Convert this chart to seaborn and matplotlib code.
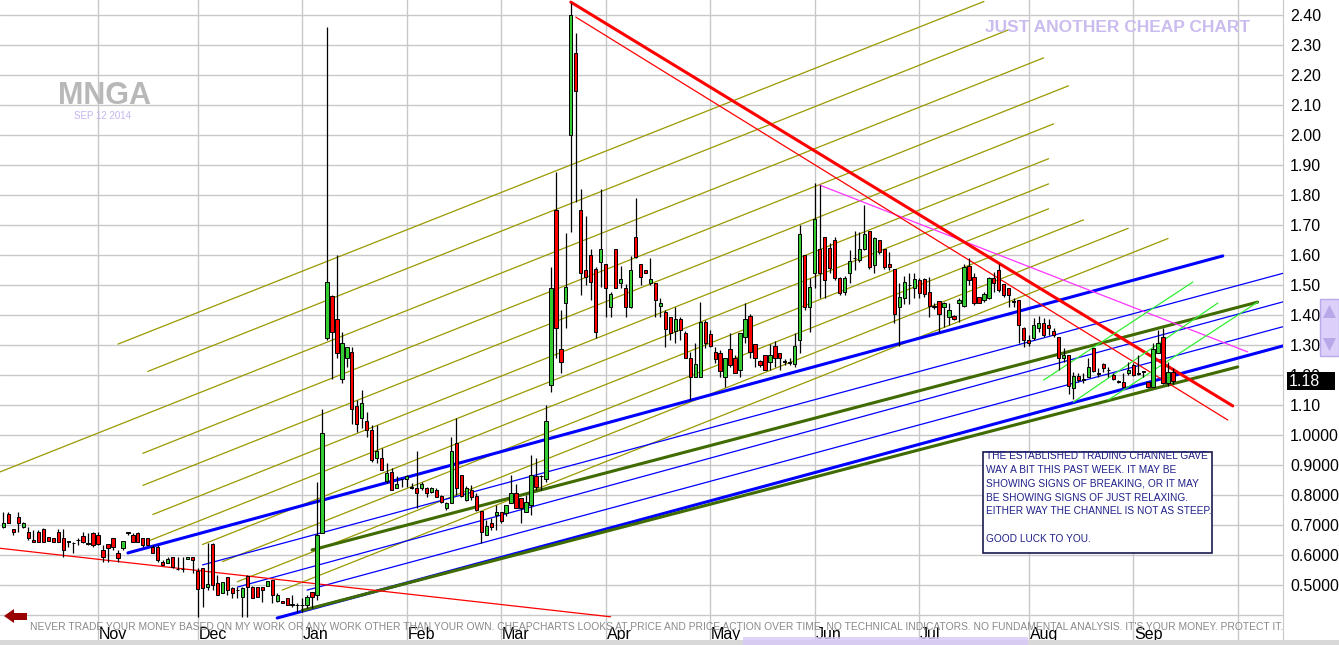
import numpy as np
import pandas as pd
import matplotlib
matplotlib.use('Agg')
import matplotlib.pyplot as plt
from matplotlib.patches import Rectangle, Polygon
from matplotlib.transforms import blended_transform_factory
import seaborn as sns

sns.set_style('white')
plt.rcParams['font.family'] = ['Liberation Sans', 'DejaVu Sans']

# ---- data -------------------------------------------------------------
HOLIDAYS = ['2013-11-28', '2013-12-25', '2014-01-01', '2014-01-20', '2014-02-17',
            '2014-04-18', '2014-05-26', '2014-07-04', '2014-09-01']
first_day, last_day = '2013-10-07', '2014-09-12'

opens = [
    # Oct 2013
    .694, .737, .686, .726, .694, .676, .650, .678, .686, .659, .656, .678, .656, .645, .640, .650, .663, .639, .674,
    # Nov
    .667, .617, .636, .656, .606, .622, .675, .667, .674, .656, .656, .628, .628, .578, .574, .594, .553, .553, .586, .594,
    # Dec
    .548, .556, .492, .637, .508, .472, .528, .489, .484, .461, .530, .494, .494, .494, .497, .517, .448, .448, .456, .437, .434,
    # Jan 2014
    .434, .433, .478, .467, .673, 1.325, 1.463, 1.387, 1.186, 1.256, 1.276, 1.097, 1.056, 1.047, 1.017, .924, .925, .847, .876, .825, .854,
    # Feb
    .853, .826, .822, .825, .825, .809, .817, .797, .756, .775, .972, .866, .783, .817, .798, .747, .667, .706, .733,
    # Mar
    .744, .739, .775, .806, .789, .745, .767, .864, .864, .852, 1.167, 1.750, 1.286, 1.439, 2.000, 2.272, 1.750, 1.550, 1.600, 1.555, 1.578,
    # Apr
    1.569, 1.428, 1.619, 1.508, 1.489, 1.428, 1.659, 1.569, 1.550, 1.508, 1.508, 1.430, 1.411, 1.394, 1.348, 1.386, 1.339, 1.256, 1.194, 1.194, 1.378,
    # May
    1.336, 1.278, 1.274, 1.194, 1.286, 1.256, 1.217, 1.328, 1.397, 1.303, 1.248, 1.267, 1.244, 1.297, 1.274, 1.245, 1.242, 1.236, 1.317, 1.600, 1.428,
    # Jun
    1.539, 1.620, 1.661, 1.622, 1.650, 1.522, 1.478, 1.539, 1.590, 1.585, 1.619, 1.680, 1.567, 1.650, 1.619, 1.570, 1.552, 1.428, 1.458, 1.500, 1.489,
    # Jul
    1.517, 1.520, 1.477, 1.430, 1.448, 1.428, 1.394, 1.397, 1.439, 1.430, 1.563, 1.528, 1.461, 1.450, 1.458, 1.522, 1.550, 1.503, 1.489, 1.445, 1.450, 1.356,
    # Aug
    1.317, 1.322, 1.356, 1.374, 1.367, 1.348, 1.326, 1.256, 1.267, 1.156, 1.197, 1.186, 1.194, 1.289, 1.206, 1.237, 1.217, 1.200, 1.178, 1.178, 1.206,
    # Sep
    1.233, 1.206, 1.212, 1.178, 1.161, 1.272, 1.328, 1.172, 1.211,
]
highs = [
    .744, .744, .686, .744, .711, .694, .683, .683, .690, .661, .656, .686, .686, .645, .644, .656, .678, .674, .678,
    .678, .633, .636, .656, .617, .647, .678, .672, .678, .656, .656, .633, .633, .583, .592, .594, .592, .594, .592, .594,
    .556, .556, .639, .639, .533, .511, .528, .494, .494, .494, .533, .497, .494, .494, .514, .517, .472, .448, .456, .467, .439,
    .456, .467, .478, .843, 1.087, 2.361, 1.467, 1.600, 1.344, 1.294, 1.294, 1.117, 1.150, 1.078, 1.033, 1.033, .956, .906, .889, .863, .855,
    .867, .840, .948, .844, .828, .828, .822, .800, .778, .994, 1.056, .866, .830, .833, .806, .747, .717, .722, .767,
    .744, .767, .867, .837, .789, .800, .933, .925, .867, 1.100, 1.561, 1.878, 1.417, 1.672, 2.440, 2.340, 1.819, 1.730, 1.619, 1.561, 1.819,
    1.569, 1.478, 1.619, 1.563, 1.505, 1.597, 1.789, 1.569, 1.550, 1.589, 1.508, 1.456, 1.417, 1.394, 1.428, 1.394, 1.347, 1.278, 1.306, 1.444, 1.383,
    1.350, 1.294, 1.283, 1.256, 1.339, 1.267, 1.339, 1.439, 1.405, 1.303, 1.250, 1.267, 1.303, 1.314, 1.274, 1.252, 1.256, 1.339, 1.700, 1.600, 1.522,
    1.840, 1.833, 1.661, 1.639, 1.661, 1.528, 1.530, 1.617, 1.681, 1.678, 1.767, 1.680, 1.661, 1.650, 1.619, 1.611, 1.552, 1.506, 1.530, 1.539, 1.541,
    1.522, 1.525, 1.528, 1.440, 1.448, 1.444, 1.439, 1.400, 1.456, 1.570, 1.589, 1.539, 1.461, 1.478, 1.528, 1.544, 1.570, 1.503, 1.489, 1.456, 1.450, 1.359,
    1.333, 1.389, 1.397, 1.389, 1.386, 1.356, 1.326, 1.289, 1.267, 1.211, 1.206, 1.206, 1.256, 1.289, 1.222, 1.239, 1.228, 1.206, 1.183, 1.206, 1.244,
    1.239, 1.267, 1.212, 1.178, 1.308, 1.350, 1.356, 1.244, 1.225,
]
lows = [
    .689, .706, .667, .678, .689, .650, .644, .644, .644, .646, .644, .644, .594, .628, .606, .633, .639, .633, .628,
    .633, .578, .578, .617, .578, .617, .667, .644, .644, .628, .633, .606, .578, .567, .572, .556, .550, .544, .586, .539,
    .394, .428, .483, .483, .467, .472, .467, .456, .456, .394, .394, .456, .461, .444, .497, .441, .444, .439, .433, .428, .411,
    .411, .422, .422, .450, .673, 1.317, 1.186, 1.257, 1.175, 1.228, 1.037, 1.011, 1.022, .994, .911, .906, .883, .839, .817, .822, .826,
    .828, .820, .756, .817, .794, .808, .794, .775, .750, .772, .800, .794, .781, .783, .748, .639, .667, .683, .683,
    .706, .730, .772, .756, .706, .745, .733, .817, .817, .844, 1.145, 1.256, 1.206, 1.356, 1.678, 1.778, 1.467, 1.500, 1.450, 1.322, 1.494,
    1.394, 1.394, 1.489, 1.489, 1.394, 1.422, 1.589, 1.500, 1.539, 1.500, 1.394, 1.394, 1.294, 1.317, 1.306, 1.317, 1.256, 1.117, 1.194, 1.194, 1.289,
    1.294, 1.239, 1.194, 1.161, 1.228, 1.206, 1.194, 1.306, 1.256, 1.228, 1.228, 1.217, 1.217, 1.228, 1.217, 1.233, 1.233, 1.228, 1.272, 1.417, 1.344,
    1.489, 1.456, 1.456, 1.539, 1.517, 1.467, 1.467, 1.506, 1.550, 1.578, 1.617, 1.555, 1.539, 1.605, 1.555, 1.550, 1.374, 1.297, 1.437, 1.437, 1.458,
    1.456, 1.460, 1.394, 1.420, 1.344, 1.361, 1.367, 1.383, 1.378, 1.428, 1.500, 1.433, 1.439, 1.444, 1.455, 1.478, 1.478, 1.461, 1.428, 1.428, 1.306, 1.294,
    1.297, 1.317, 1.344, 1.328, 1.333, 1.328, 1.217, 1.244, 1.137, 1.119, 1.178, 1.172, 1.192, 1.211, 1.194, 1.211, 1.194, 1.183, 1.172, 1.159, 1.200,
    1.197, 1.200, 1.194, 1.156, 1.159, 1.272, 1.170, 1.165, 1.170,
]
closes = [
    .706, .706, .676, .706, .708, .656, .644, .644, .644, .648, .644, .644, .617, .644, .639, .649, .644, .638, .633,
    .637, .594, .624, .628, .589, .647, .674, .644, .644, .633, .633, .606, .583, .567, .587, .561, .552, .552, .592, .583,
    .486, .489, .502, .500, .467, .511, .483, .474, .483, .489, .494, .456, .461, .483, .514, .467, .467, .439, .433, .433, .433,
    .433, .461, .461, .667, 1.007, 1.509, 1.344, 1.273, 1.306, 1.294, 1.086, 1.037, 1.106, 1.017, .917, .947, .883, .875, .817, .837, .853,
    .863, .825, .806, .836, .806, .825, .794, .778, .775, .948, .825, .797, .825, .794, .750, .676, .697, .694, .744,
    .714, .767, .806, .756, .756, .778, .867, .828, .863, 1.047, 1.489, 1.356, 1.244, 1.494, 2.400, 2.148, 1.539, 1.528, 1.509, 1.344, 1.620,
    1.489, 1.470, 1.489, 1.520, 1.428, 1.550, 1.592, 1.528, 1.539, 1.520, 1.450, 1.439, 1.355, 1.341, 1.386, 1.350, 1.256, 1.194, 1.236, 1.378, 1.306,
    1.297, 1.252, 1.213, 1.256, 1.233, 1.206, 1.339, 1.386, 1.278, 1.256, 1.233, 1.217, 1.267, 1.256, 1.256, 1.244, 1.241, 1.297, 1.670, 1.428, 1.492,
    1.719, 1.540, 1.517, 1.556, 1.522, 1.472, 1.522, 1.581, 1.589, 1.619, 1.670, 1.559, 1.656, 1.611, 1.559, 1.559, 1.403, 1.461, 1.511, 1.499, 1.519,
    1.472, 1.470, 1.430, 1.428, 1.403, 1.439, 1.417, 1.386, 1.450, 1.561, 1.517, 1.439, 1.441, 1.470, 1.522, 1.508, 1.485, 1.467, 1.467, 1.444, 1.367, 1.317,
    1.306, 1.367, 1.374, 1.333, 1.356, 1.333, 1.256, 1.267, 1.164, 1.197, 1.183, 1.185, 1.228, 1.214, 1.205, 1.222, 1.216, 1.186, 1.177, 1.161, 1.217,
    1.200, 1.205, 1.211, 1.161, 1.286, 1.306, 1.172, 1.211, 1.180,
]

# hand-drawn trend lines: start date, start price, end date, end price
fan_start = ['2013-11-07', '2013-11-15', '2013-10-04', '2013-11-14', '2013-11-14', '2013-11-18',
             '2013-11-15', '2013-12-03', '2013-12-09', '2013-12-12', '2013-12-26']
fan_p0 = [1.303, 1.212, 0.875, 0.939, 0.832, 0.735, 0.646, 0.635, 0.578, 0.511, 0.483]
fan_end = ['2014-07-21', '2014-07-28', '2014-08-06', '2014-08-13', '2014-08-08', '2014-08-07',
           '2014-08-07', '2014-08-07', '2014-08-18', '2014-08-29', '2014-09-11']
fan_p1 = [2.445, 2.351, 2.257, 2.164, 2.037, 1.921, 1.837, 1.754, 1.717, 1.689, 1.655]

trend_names = ['blue_top', 'blue_bottom', 'blue_1', 'blue_2', 'blue_3', 'green_top', 'green_bottom',
               'magenta', 'red_thick', 'red_thin', 'red_low', 'lime_1', 'lime_2', 'lime_3']
trend_start = ['2013-11-11', '2013-12-24', '2013-12-03', '2013-12-12', '2014-01-03', '2014-01-06', '2014-01-02',
               '2014-06-03', '2014-03-21', '2014-03-24', '2013-10-04', '2014-08-06', '2014-08-14', '2014-08-25']
trend_p0 = [0.607, 0.390, 0.567, 0.493, 0.483, 0.617, 0.415, 1.833, 2.443, 2.393, 0.623, 1.183, 1.110, 1.117]
trend_end = ['2014-09-26', '2014-10-17', '2014-10-17', '2014-10-17', '2014-10-17', '2014-10-07', '2014-10-01',
             '2014-10-03', '2014-09-30', '2014-09-29', '2014-04-02', '2014-09-18', '2014-09-25', '2014-10-07']
trend_p1 = [1.597, 1.310, 1.552, 1.457, 1.374, 1.443, 1.227, 1.277, 1.097, 1.050, 0.394, 1.510, 1.440, 1.443]

price_ticks = [0.5, 0.6, 0.7, 0.8, 0.9, 1.0, 1.1, 1.2, 1.3, 1.4, 1.5, 1.6, 1.7, 1.8, 1.9, 2.0, 2.1, 2.2, 2.3, 2.4]
price_labels = ['0.5000', '0.6000', '0.7000', '0.8000', '0.9000', '1.0000', '1.10', '1.20', '1.30', '1.40',
                '1.50', '1.60', '1.70', '1.80', '1.90', '2.00', '2.10', '2.20', '2.30', '2.40']
month_starts = ['2013-11-01', '2013-12-02', '2014-01-02', '2014-02-03', '2014-03-03', '2014-04-01',
                '2014-05-01', '2014-06-02', '2014-07-01', '2014-08-01', '2014-09-02', '2014-10-01']
month_names = ['Nov', 'Dec', 'Jan', 'Feb', 'Mar', 'Apr', 'May', 'Jun', 'Jul', 'Aug', 'Sep', '']
last_price = 1.18

note = ("THE ESTABLISHED TRADING CHANNEL GAVE\nWAY A BIT THIS PAST WEEK. IT MAY BE\n"
        "SHOWING SIGNS OF BREAKING, OR IT MAY\nBE SHOWING SIGNS OF JUST RELAXING.\n"
        "EITHER WAY THE CHANNEL IS NOT AS STEEP.\n\nGOOD LUCK TO YOU.")
disclaimer = ("NEVER TRADE YOUR MONEY BASED ON MY WORK OR ANY WORK OTHER THAN YOUR OWN. "
              "CHEAPCHARTS LOOKS AT PRICE AND PRICE ACTION OVER TIME. NO TECHNICAL INDICATORS. "
              "NO FUNDAMENTAL ANALYSIS. IT'S YOUR MONEY. PROTECT IT.")


def bar_no(d):
    # trading-day number counted from 1 Nov 2013
    return np.busday_count('2013-11-01', np.datetime64(d, 'D'), holidays=HOLIDAYS)


dates = pd.bdate_range(first_day, last_day, freq='C', holidays=HOLIDAYS)
df = pd.DataFrame({'date': dates, 'open': opens, 'high': highs, 'low': lows, 'close': closes})
df['x'] = [bar_no(d.strftime('%Y-%m-%d')) for d in df['date']]

# ---- figure -------------------------------------------------------------
W, H = 1339, 645
fig = plt.figure(figsize=(W / 100, H / 100), dpi=100)
ax = fig.add_axes([0, 5 / H, 1283 / W, 640 / H])
ax.set_xlim(-19.7, 238.1)
ax.set_ylim(0.3167, 2.45)

grid_c = '#c8c8c8'
for m in month_starts:
    ax.axvline(bar_no(m), color=grid_c, lw=1, zorder=0)
for p in np.arange(0.4, 2.45, 0.1):
    ax.axhline(p, color=grid_c, lw=1, zorder=0)

# trend lines
for s, p0, e, p1 in zip(fan_start, fan_p0, fan_end, fan_p1):
    sns.lineplot(x=[bar_no(s), bar_no(e)], y=[p0, p1], color='#999900', lw=0.9, ax=ax, zorder=1)

styles = {
    'blue_top': ('#0000ff', 2.2), 'blue_bottom': ('#0000ff', 2.2),
    'blue_1': ('#0000ff', 0.9), 'blue_2': ('#0000ff', 0.9), 'blue_3': ('#0000ff', 0.9),
    'green_top': ('#3f6b00', 2.2), 'green_bottom': ('#3f6b00', 2.2),
    'magenta': ('#ff33ff', 0.9), 'red_thick': ('#ff0000', 2.2), 'red_thin': ('#ff0000', 0.9),
    'red_low': ('#ff0000', 0.9), 'lime_1': ('#33ee33', 0.9), 'lime_2': ('#33ee33', 0.9),
    'lime_3': ('#33ee33', 0.9),
}
for n, s, p0, e, p1 in zip(trend_names, trend_start, trend_p0, trend_end, trend_p1):
    c, lw = styles[n]
    sns.lineplot(x=[bar_no(s), bar_no(e)], y=[p0, p1], color=c, lw=lw, ax=ax, zorder=2)

# candles
ax.vlines(df['x'], df['low'], df['high'], color='black', lw=0.9, zorder=3)
body = (df['close'] - df['open']).abs()
colors = np.where(body < 0.004, 'black', np.where(df['close'] > df['open'], '#33cc33', '#ff0000'))
ax.bar(df['x'], np.maximum(body, 0.002), bottom=np.minimum(df['open'], df['close']), width=0.66,
       color=colors, edgecolor='black', linewidth=0.7, zorder=4)

for sp in ['top', 'left', 'bottom']:
    ax.spines[sp].set_visible(False)
ax.spines['right'].set_color(grid_c)

ax.set_xticks([])
ax.yaxis.tick_right()
ax.set_yticks(price_ticks)
ax.set_yticklabels(price_labels)
ax.tick_params(axis='y', length=0, pad=5, labelsize=11.5, labelcolor='black')
ax.set_xlabel('')
ax.set_ylabel('')

for m, name in zip(month_starts, month_names):
    ax.text(bar_no(m) + 0.2, 0.008, name, transform=blended_transform_factory(ax.transData, ax.transAxes),
            ha='left', va='center', fontsize=11.5, color='black', zorder=6)

# last price tag
bt = blended_transform_factory(ax.transAxes, ax.transData)
ax.add_patch(Rectangle((1 + 4 / 1283, last_price - 0.03), 48 / 1283, 0.06, transform=bt,
                       facecolor='black', edgecolor='none', clip_on=False, zorder=10))
ax.text(1 + 6 / 1283, last_price, f'{last_price:.2f}', transform=bt, color='white', fontsize=11.5,
        ha='left', va='center', clip_on=False, zorder=11)

# note box
fig.patches.append(Rectangle((983 / W, 1 - 553 / H), 229 / W, 101 / H, transform=fig.transFigure,
                             facecolor='white', edgecolor='#1a1a50', lw=1.2, zorder=5))
fig.text(986 / W, 1 - 451 / H, note, ha='left', va='top', fontsize=7.3, color='#20208a',
         linespacing=1.48, zorder=6)

# watermarks
fig.text(105 / W, 1 - 96 / H, 'MNGA', ha='center', va='center', fontsize=22, color='#b8b8b8',
         fontweight='bold')
fig.text(103 / W, 1 - 116 / H, 'SEP 12 2014', ha='center', va='center', fontsize=7, color='#c4b4f0')
fig.text(1118 / W, 1 - 27 / H, 'JUST ANOTHER CHEAP CHART', ha='center', va='center', fontsize=12.5,
         color='#cbbcef', fontweight='bold')

# scroll widget on price axis
fig.patches.append(Rectangle((1320 / W, 1 - 356 / H), 19 / W, 57 / H, transform=fig.transFigure,
                             facecolor='#dcd0fa', edgecolor='#b8a8e8', lw=1))
fig.patches.append(Polygon([(1323 / W, 1 - 318 / H), (1336 / W, 1 - 318 / H), (1329.5 / W, 1 - 305 / H)],
                           closed=True, transform=fig.transFigure, facecolor='#b8a8e8', edgecolor='none'))
fig.patches.append(Polygon([(1323 / W, 1 - 338 / H), (1336 / W, 1 - 338 / H), (1329.5 / W, 1 - 351 / H)],
                           closed=True, transform=fig.transFigure, facecolor='#b8a8e8', edgecolor='none'))

# bottom strip / scrollbar
fig.patches.append(Rectangle((0, 0), 1, 5 / H, transform=fig.transFigure, facecolor='#d8d8d8', edgecolor='none'))
fig.patches.append(Rectangle((743 / W, 0), 285 / W, 8 / H, transform=fig.transFigure,
                             facecolor='#d8c8f8', edgecolor='none', alpha=0.8, zorder=7))

# back arrow
fig.patches.append(Polygon([(4 / W, 1 - 616 / H), (14 / W, 1 - 609 / H), (14 / W, 1 - 613 / H),
                            (27 / W, 1 - 613 / H), (27 / W, 1 - 620 / H), (14 / W, 1 - 620 / H),
                            (14 / W, 1 - 623 / H)], closed=True, transform=fig.transFigure,
                           facecolor='#990000', edgecolor='none'))

# disclaimer, fitted to its span in the reference
disc = fig.text(30 / W, 1 - 627 / H, disclaimer, ha='left', va='center', fontsize=8, color='#8a8a8a',
                family=['Liberation Sans Narrow', 'Liberation Sans'], zorder=8)
fig.canvas.draw()
w = disc.get_window_extent().width
disc.set_fontsize(8 * 1248 / w)

fig.savefig('out.png', dpi=100)
